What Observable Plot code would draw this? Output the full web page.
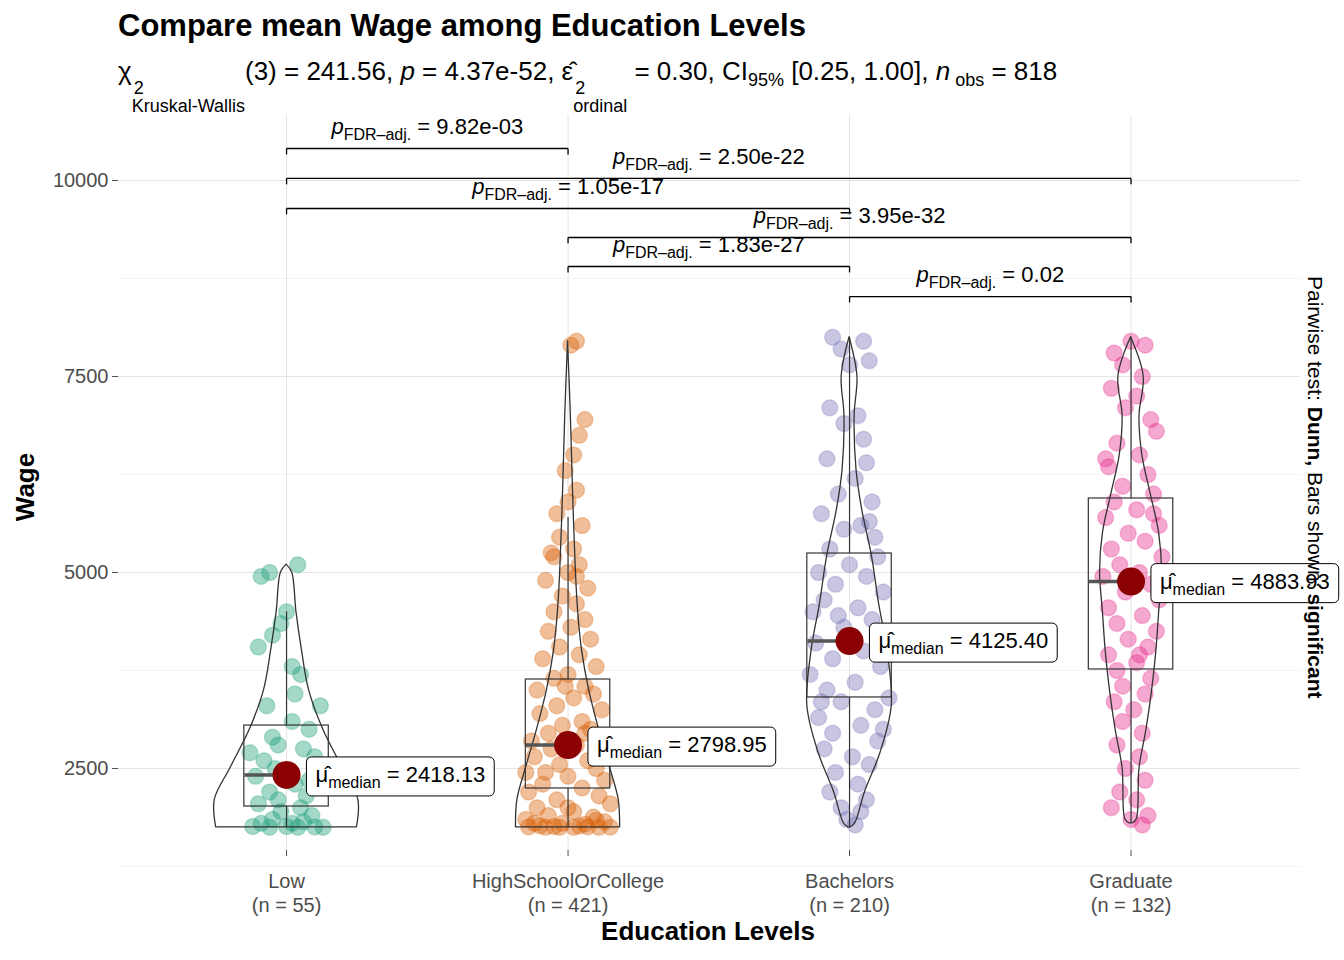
<!DOCTYPE html>
<html>
<head>
<meta charset="utf-8">
<script src="https://cdn.jsdelivr.net/npm/d3@7"></script>
<script src="https://cdn.jsdelivr.net/npm/@observablehq/plot@0.6"></script>
<style>
  body { margin: 0; background: #fff; font-family: "Liberation Sans", Arial, sans-serif; }
  #wrap { position: relative; width: 1344px; height: 960px; }
  #title { position: absolute; left: 118px; top: 8px; font-size: 31px; font-weight: bold; }
  #subtitle { position: absolute; left: 118px; top: 56px; font-size: 26px; white-space: nowrap; }
  #subtitle sub { font-size: 18px; }
  .ss { display: inline-flex; flex-direction: column; vertical-align: -14px; font-size: 18px; line-height: 18px; }
  .ss span:first-child { margin-left: 2px; }
  #caption { position: absolute; left: 1303px; top: 276px; writing-mode: vertical-rl; font-size: 21px; white-space: nowrap; }
  #ylab { position: absolute; left: 10px; top: 487px; transform: translateY(-50%) rotate(180deg); writing-mode: vertical-rl; font-size: 26px; font-weight: bold; }
  #xlab { position: absolute; left: 708px; top: 916px; transform: translateX(-50%); font-size: 26px; font-weight: bold; white-space: nowrap; }
  #chart { position: absolute; left: 0; top: 100px; }
</style>
</head>
<body>
<div id="wrap">
  <div id="chart"></div>
  <div id="title">Compare mean Wage among Education Levels</div>
  <div id="subtitle">χ<span class="ss"><span>2</span><span>Kruskal-Wallis</span></span>(3) = 241.56, <i>p</i> = 4.37e-52, ε̂<span class="ss"><span>2</span><span>ordinal</span></span> = 0.30, CI<sub>95%</sub> [0.25, 1.00], <i>n</i><sub> obs</sub> = 818</div>
  <div id="caption">Pairwise test: <b>Dunn,</b> Bars shown: <b>significant</b></div>
  <div id="ylab">Wage</div>
  <div id="xlab">Education Levels</div>
</div>
<script>
// categories and counts
const levels = ["Low", "HighSchoolOrCollege", "Bachelors", "Graduate"];
const counts = [55, 421, 210, 132];
const colors = ["#1B9E77", "#D95F02", "#7570B3", "#E7298A"];

// box stats: min, q1, median, q3, max
const boxMin = [1750, 1750, 1750, 1800];
const boxQ1 = [2015, 2245, 3406, 3763];
const boxMedian = [2418.13, 2798.95, 4125.40, 4883.93];
const boxQ3 = [3048, 3635, 5242, 5944];
const boxMax = [4500, 5700, 8000, 8000];

// violin half-widths (category units) read at wage levels
const violinLow = [[1750,0.25],[2100,0.255],[2500,0.2],[3000,0.13],[3500,0.08],[4000,0.055],[4500,0.035],[5000,0.02],[5100,0]];
const violinHSC = [[1750,0.185],[2100,0.18],[2500,0.15],[3000,0.11],[3500,0.075],[4000,0.05],[4500,0.036],[5000,0.028],[6000,0.018],[7000,0.01],[7950,0]];
const violinBach = [[1750,0.005],[1800,0.02],[2200,0.055],[2700,0.11],[3300,0.15],[4000,0.135],[4600,0.105],[5200,0.08],[5800,0.045],[6300,0.025],[7000,0.018],[7500,0.028],[8000,0]];
const violinGrad = [[1800,0.005],[1850,0.02],[2500,0.03],[3000,0.055],[3500,0.075],[4000,0.09],[4500,0.1],[5000,0.11],[5500,0.1],[6000,0.07],[6500,0.04],[7000,0.03],[7500,0.045],[8000,0]];

// jittered observations [offset, wage]
const ptsLow = [[-0.06,5000],[0.04,5100],[-0.09,4950],[0.0,4500],[-0.05,4200],[-0.02,4350],[-0.1,4050],[0.02,3800],[0.05,3700],[0.03,3450],[-0.07,3300],[0.08,3000],[-0.05,2900],[0.02,3100],[-0.03,2800],[0.06,2750],[-0.08,2600],[0.1,2650],[-0.04,2500],[0.0,2450],[0.03,2300],[-0.06,2200],[0.07,2150],[-0.1,2050],[0.05,2000],[-0.02,1950],[0.09,1900],[-0.05,1850],[-0.12,1760],[-0.06,1750],[0.0,1760],[0.04,1750],[0.1,1755],[0.13,1750],[-0.09,1800],[0.02,1800],[0.06,1820],[-0.03,2100],[0.08,2350],[-0.11,2400],[0.12,3300],[-0.13,2700]];
const ptsHSC = [[0.03,7950],[0.01,7900],[0.06,6950],[0.04,6750],[0.02,6500],[-0.01,6300],[0.03,6050],[0.0,5900],[-0.04,5750],[0.05,5600],[-0.03,5450],[0.02,5300],[-0.06,5250],[0.04,5100],[0.0,5000],[-0.08,4900],[0.07,4800],[-0.02,4700],[0.03,4600],[-0.05,4500],[0.06,4400],[0.01,4300],[-0.07,4250],[0.08,4150],[-0.03,4050],[0.04,3950],[-0.09,3900],[0.1,3800],[0.0,3700],[-0.05,3650],[0.06,3550],[-0.11,3500],[0.09,3450],[0.02,3400],[-0.04,3300],[0.12,3250],[-0.1,3200],[0.05,3100],[-0.02,3050],[0.08,3000],[-0.07,2950],[0.11,2900],[-0.13,2850],[0.03,2800],[-0.06,2750],[0.14,2700],[-0.12,2650],[0.07,2600],[-0.03,2550],[0.1,2500],[-0.15,2450],[0.0,2400],[0.13,2350],[-0.09,2300],[0.05,2250],[-0.14,2200],[0.11,2150],[-0.04,2100],[0.15,2050],[-0.11,2000],[0.02,1950],[-0.07,1900],[0.09,1880],[-0.15,1850],[0.13,1820],[-0.02,1800],[0.06,1790],[-0.1,1770],[-0.14,1755],[-0.08,1750],[-0.03,1750],[0.02,1750],[0.07,1755],[0.11,1750],[0.15,1752],[-0.05,1760],[0.04,1765],[-0.12,1800],[0.1,1840],[0.0,2000],[-0.08,2450],[0.06,2950],[-0.01,3550],[0.03,4950],[-0.05,5200]];
const ptsBach = [[-0.06,8000],[0.05,7950],[-0.03,7850],[0.0,7650],[0.07,7700],[-0.07,7100],[0.03,7000],[-0.02,6900],[0.05,6700],[-0.08,6450],[0.06,6400],[0.02,6200],[-0.04,6000],[0.08,5900],[-0.1,5750],[0.04,5600],[-0.02,5550],[0.09,5450],[-0.07,5300],[0.1,5200],[0.0,5100],[-0.11,5000],[0.06,4950],[-0.05,4850],[0.12,4750],[-0.09,4650],[0.03,4550],[-0.13,4500],[0.08,4400],[-0.02,4300],[0.13,4200],[-0.12,4100],[0.05,4000],[-0.06,3900],[0.11,3800],[-0.14,3700],[0.02,3600],[-0.08,3500],[0.14,3400],[-0.03,3350],[0.09,3250],[-0.11,3150],[0.04,3050],[-0.06,2950],[0.1,2850],[-0.09,2750],[0.01,2650],[0.07,2550],[-0.05,2450],[0.03,2300],[-0.07,2200],[0.06,2100],[-0.03,2000],[0.04,1950],[-0.01,1850],[0.02,1780],[-0.1,3350],[0.12,3000],[-0.04,4450],[0.07,5650]];
const ptsGrad = [[0.0,7950],[0.05,7900],[-0.06,7800],[-0.03,7650],[0.04,7500],[-0.07,7350],[0.02,7250],[-0.02,7100],[0.07,6950],[0.09,6800],[-0.05,6650],[0.03,6500],[-0.08,6350],[0.06,6250],[-0.03,6100],[0.08,6000],[-0.06,5900],[0.02,5800],[-0.09,5700],[0.1,5600],[-0.01,5500],[0.05,5400],[-0.07,5300],[0.11,5200],[-0.04,5100],[0.03,5000],[-0.1,4950],[0.07,4850],[-0.02,4750],[0.1,4650],[-0.08,4550],[0.04,4450],[-0.05,4350],[0.09,4250],[-0.01,4150],[0.06,4050],[-0.08,3950],[0.02,3850],[-0.05,3750],[0.07,3650],[-0.03,3550],[0.05,3450],[-0.06,3350],[0.01,3250],[-0.03,3100],[0.04,2950],[-0.05,2800],[0.03,2650],[-0.02,2500],[0.05,2350],[-0.04,2200],[0.02,2100],[-0.07,2000],[0.06,1900],[0.0,1850],[0.04,1780],[-0.02,4900],[0.08,5750],[-0.09,6450],[0.03,3950]];

// pairwise brackets
const pairFrom = [0, 0, 0, 1, 1, 2];
const pairTo = [1, 3, 2, 3, 2, 3];
const pairY = [10408, 10026, 9643, 9273, 8903, 8520];
const pairP = ["9.82e-03", "2.50e-22", "1.05e-17", "3.95e-32", "1.83e-27", "0.02"];

const violins = [violinLow, violinHSC, violinBach, violinGrad]
  .flatMap((v, g) => v.map(([wage, w]) => ({g, wage, w})));
const points = [ptsLow, ptsHSC, ptsBach, ptsGrad]
  .flatMap((p, g) => p.map(([dx, wage]) => ({g, x: g + dx, wage})));
const boxes = levels.map((name, g) => ({g, min: boxMin[g], q1: boxQ1[g], med: boxMedian[g], q3: boxQ3[g], max: boxMax[g]}));
const pairs = pairFrom.map((a, i) => ({a, b: pairTo[i], y: pairY[i], p: pairP[i]}));
const tickH = 75;

const chart = Plot.plot({
  width: 1344,
  height: 860,
  marginLeft: 118,
  marginRight: 44,
  marginTop: 15,
  marginBottom: 110,
  style: {fontFamily: '"Liberation Sans", Arial, sans-serif', fontSize: "15px"},
  x: {domain: [-0.597, 3.602], axis: null},
  y: {domain: [1454, 10829], axis: null},
  marks: [
    Plot.gridY([1250, 3750, 6250, 8750], {stroke: "#EBEBEB", strokeOpacity: 1, strokeWidth: 0.6}),
    Plot.gridY([2500, 5000, 7500, 10000], {stroke: "#E4E4E4", strokeOpacity: 1}),
    Plot.gridX([0, 1, 2, 3], {stroke: "#E4E4E4", strokeOpacity: 1}),
    Plot.axisY({ticks: [2500, 5000, 7500, 10000], tickSize: 6, tickPadding: 4, fontSize: 20, color: "#4D4D4D", label: null, tickFormat: d => String(d)}),
    Plot.axisX({ticks: [0, 1, 2, 3], tickSize: 6, tickPadding: 14, fontSize: 20, lineHeight: 1.2, color: "#4D4D4D", label: null,
      tickFormat: d => `${levels[d]}\n(n = ${counts[d]})`}),
    Plot.dot(points, {x: "x", y: "wage", r: 8, fill: d => colors[d.g], fillOpacity: 0.4, stroke: d => colors[d.g], strokeOpacity: 0.25}),
    Plot.areaX(violins, {x1: d => d.g - d.w, x2: d => d.g + d.w, y: "wage", z: "g", fill: "none", stroke: "#333", strokeWidth: 1.3, curve: "catmull-rom"}),
    Plot.rect(boxes, {x1: d => d.g - 0.15, x2: d => d.g + 0.15, y1: "q1", y2: "q3", fill: "none", stroke: "#333", strokeWidth: 1.2}),
    Plot.ruleX(boxes, {x: "g", y1: "q3", y2: "max", stroke: "#333", strokeWidth: 1.2}),
    Plot.ruleX(boxes, {x: "g", y1: "min", y2: "q1", stroke: "#333", strokeWidth: 1.2}),
    Plot.link(boxes, {x1: d => d.g - 0.15, x2: "g", y1: "med", y2: "med", stroke: "#555", strokeWidth: 3.5}),
    Plot.dot(boxes, {x: "g", y: "med", r: 14, fill: "#8B0000"}),
    Plot.text(boxes, {x: d => d.g + 0.06, y: "med", text: d => d.med.toFixed(2), textAnchor: "start", dx: 12, fontSize: 22, fill: "#000", className: "mlab"}),
    // brackets
    Plot.link(pairs, {x1: "a", x2: "b", y1: "y", y2: "y", stroke: "#000", strokeWidth: 1.3}),
    Plot.link(pairs, {x1: "a", x2: "a", y1: "y", y2: d => d.y - tickH, stroke: "#000", strokeWidth: 1.3}),
    Plot.link(pairs, {x1: "b", x2: "b", y1: "y", y2: d => d.y - tickH, stroke: "#000", strokeWidth: 1.3}),
    Plot.text(pairs, {x: d => (d.a + d.b) / 2, y: "y", text: "p", dy: -22, fontSize: 22, fill: "#000", className: "plab"})
  ]
});

document.getElementById("chart").append(chart);

const svg = d3.select(chart);
svg.selectAll("g.plab text").each(function () {
  const v = this.textContent;
  const t = d3.select(this).text("");
  t.append("tspan").attr("font-style", "italic").text("p");
  t.append("tspan").attr("font-size", 16).attr("dy", 6).text("FDR–adj.");
  t.append("tspan").attr("dy", -6).text(" = " + v);
});
svg.selectAll("g.mlab text").each(function () {
  const v = this.textContent;
  const t = d3.select(this).text("");
  t.append("tspan").text("μ̂");
  t.append("tspan").attr("font-size", 16).attr("dy", 6).text("median");
  t.append("tspan").attr("dy", -6).text(" = " + v);
  const b = this.getBBox();
  d3.select(this.parentNode).insert("rect", () => this)
    .attr("transform", this.getAttribute("transform"))
    .attr("x", b.x - 9).attr("y", b.y - 5).attr("width", b.width + 18).attr("height", b.height + 10)
    .attr("rx", 5).attr("fill", "#fff").attr("stroke", "#000").attr("stroke-width", 1);
});
</script>
</body>
</html>
